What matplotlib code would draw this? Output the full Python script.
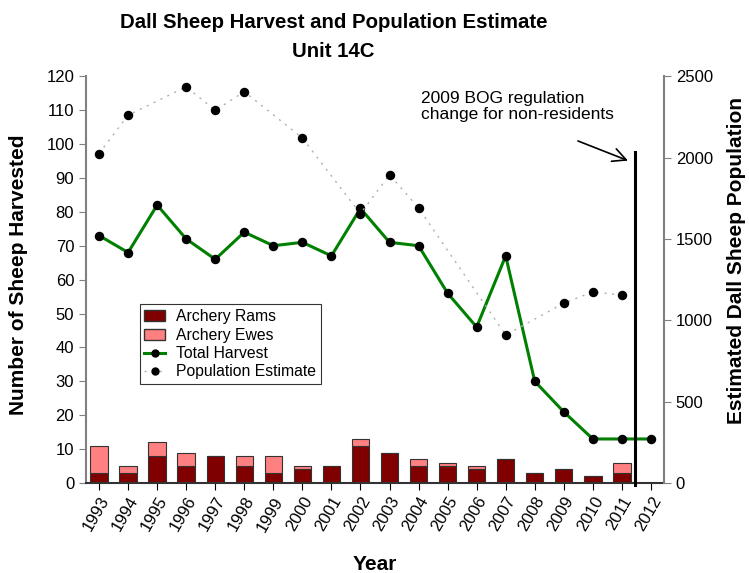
import matplotlib
matplotlib.use("Agg")
import matplotlib.pyplot as plt
from matplotlib.lines import Line2D
from matplotlib.patches import Patch

plt.rcParams['font.family'] = ['Liberation Sans', 'DejaVu Sans']

years = list(range(1993, 2013))
rams = [3, 3, 8, 5, 8, 5, 3, 4, 5, 11, 9, 5, 5, 4, 7, 3, 4, 2, 3, 0]
ewes = [8, 2, 4, 4, 0, 3, 5, 1, 0, 2, 0, 2, 1, 1, 0, 0, 0, 0, 3, 0]
total = [73, 68, 82, 72, 66, 74, 70, 71, 67, 81, 71, 70, 56, 46, 67, 30, 21, 13, 13, 13]

pop_years = [1993, 1994, 1996, 1997, 1998, 2000, 2002, 2003, 2004, 2007, 2009, 2010, 2011]
pop = [2025, 2260, 2435, 2290, 2405, 2120, 1655, 1895, 1690, 910, 1105, 1175, 1155]

fig = plt.figure(figsize=(7.49, 5.73), dpi=100)
ax = fig.add_axes([0.1148, 0.157, 0.7717, 0.710])

# stacked archery bars
ax.bar(years, rams, width=0.6, color='#800000', edgecolor='#333333', linewidth=0.8, zorder=2)
ax.bar(years, ewes, width=0.6, bottom=rams, color='#ff8080', edgecolor='#333333', linewidth=0.8, zorder=2)

# total harvest
ax.plot(years, total, color='#008000', lw=2.2, marker='o', markersize=5.8,
        markerfacecolor='black', markeredgecolor='black', zorder=3)

# regulation change line and note
ax.plot([2011.45, 2011.45], [-0.5, 97.5], color='black', lw=2.2, zorder=4, clip_on=False)
ax.annotate('', xy=(2011.3, 94.8), xytext=(2009.4, 101.2),
            arrowprops=dict(arrowstyle='->', color='black', lw=1.2, mutation_scale=24))
ax.text(2004.1, 115.5, '2009 BOG regulation\nchange for non-residents', fontsize=12.5,
        ha='left', va='top', linespacing=1.05)

ax.set_xlim(1992.55, 2012.45)
ax.set_ylim(0, 120)
ax.set_yticks(range(0, 121, 10))
ax.set_xticks(years)
ax.set_xticklabels([str(y) for y in years], rotation=60, ha='right', va='top',
                   rotation_mode='anchor', fontsize=12)
ax.tick_params(axis='y', labelsize=12, direction='out', length=5, color='#808080')
ax.tick_params(axis='x', direction='out', length=5, color='black', pad=3)
ax.spines['top'].set_visible(False)
ax.spines['left'].set_color('#808080')
ax.spines['left'].set_linewidth(1.5)
ax.spines['right'].set_visible(False)
ax.spines['bottom'].set_color('#333333')
ax.spines['bottom'].set_linewidth(1.5)
ax.set_ylabel('Number of Sheep Harvested', fontsize=15, fontweight='bold')
ax.yaxis.set_label_coords(-0.1, 0.513)
ax.set_xlabel('Year', fontsize=15, fontweight='bold')
ax.xaxis.set_label_coords(0.5, -0.177)

# population estimate on right axis
ax2 = ax.twinx()
ax2.plot(pop_years, pop, color='#b0b0b0', lw=1, linestyle=(0, (1.5, 4)), zorder=3)
ax2.plot(pop_years, pop, linestyle='none', marker='o', markersize=5.8, color='black', zorder=4)
ax2.set_ylim(0, 2500)
ax2.set_yticks(range(0, 2501, 500))
ax2.tick_params(axis='y', labelsize=12, direction='out', length=5, color='#808080')
ax2.spines['top'].set_visible(False)
ax2.spines['left'].set_visible(False)
ax2.spines['bottom'].set_visible(False)
ax2.spines['right'].set_color('#808080')
ax2.spines['right'].set_linewidth(1.5)
ax2.set_ylabel('Estimated Dall Sheep Population', fontsize=15, fontweight='bold')
ax2.yaxis.set_label_coords(1.109, 0.548)

handles = [
    Patch(facecolor='#800000', edgecolor='#333333', label='Archery Rams'),
    Patch(facecolor='#ff8080', edgecolor='#333333', label='Archery Ewes'),
    Line2D([], [], color='#008000', lw=2.2, marker='o', markersize=5,
           markerfacecolor='black', markeredgecolor='black', markevery=[0], label='Total Harvest'),
    Line2D([], [], color='#b0b0b0', lw=1, linestyle=(0, (1.5, 4)), marker='o', markersize=5,
           markerfacecolor='black', markeredgecolor='black', markevery=[0], label='Population Estimate'),
]
leg = ax2.legend(handles=handles, loc='lower left', bbox_to_anchor=(0.093, 0.243),
                 fontsize=11.3, frameon=True, fancybox=False, edgecolor='black',
                 borderpad=0.3, labelspacing=0.22, handlelength=1.3, handletextpad=0.7,
                 borderaxespad=0)
leg.get_frame().set_linewidth(0.8)

fig.text(0.445, 0.978, 'Dall Sheep Harvest and Population Estimate\nUnit 14C', fontsize=14.7,
         fontweight='bold', ha='center', va='top', linespacing=1.7)

fig.savefig('out.png', dpi=100)
